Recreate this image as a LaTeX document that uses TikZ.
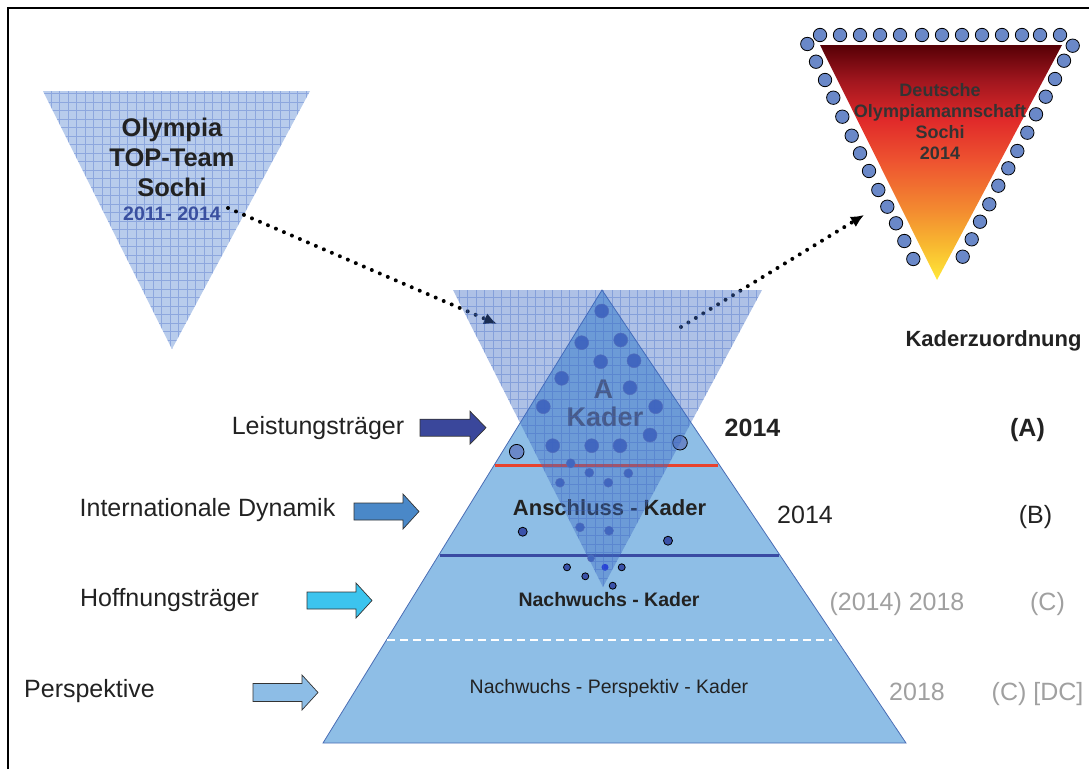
\documentclass[tikz,border=0pt]{standalone}
\usepackage{fontspec}
\setmainfont{Liberation Sans}
\usetikzlibrary{arrows.meta}
\definecolor{pyr}{HTML}{8EBEE6}
\definecolor{pyredge}{HTML}{4A6DB5}
\definecolor{hatchfill}{RGB}{77,127,207}
\definecolor{hatchfillc}{RGB}{62,108,196}
\definecolor{hatchline}{RGB}{60,100,195}
\definecolor{redline}{HTML}{E8432E}
\definecolor{blueline}{HTML}{3A4BA3}
\definecolor{ringdot}{HTML}{6A88C8}
\definecolor{incircle}{HTML}{4464BC}
\definecolor{darkdot}{HTML}{3A52AA}
\definecolor{yeargray}{HTML}{A0A0A0}
\definecolor{olyblue}{HTML}{3A50A0}
\definecolor{kadergray}{HTML}{505060}
\definecolor{txt}{HTML}{222222}
\definecolor{arrA}{HTML}{3A479B}
\definecolor{arrB}{HTML}{4A88C8}
\definecolor{arrC}{HTML}{3CC4EE}
\definecolor{arrD}{HTML}{8DBDE6}
\definecolor{fY}{HTML}{FFE838}
\definecolor{fY2}{HTML}{F8B830}
\definecolor{fO}{HTML}{F38A30}
\definecolor{fR1}{HTML}{EE5530}
\definecolor{fR2}{HTML}{E02A2A}
\definecolor{fR3}{HTML}{A0161E}
\definecolor{fD}{HTML}{560006}
\pgfdeclareverticalshading{flagshade}{100bp}{color(0bp)=(fY); color(25bp)=(fY); color(32.5bp)=(fY2); color(40bp)=(fO); color(50bp)=(fR1); color(59bp)=(fR2); color(67.5bp)=(fR3); color(75bp)=(fD); color(100bp)=(fD)}
\newcommand{\barrowshape}[7]{%
  \draw[arrowline, fill=#7] ({#1-#3},{#2-#5}) -- ({#1-#4},{#2-#5}) -- ({#1-#4},{#2-#6}) -- (#1,#2) -- ({#1-#4},{#2+#6}) -- ({#1-#4},{#2+#5}) -- ({#1-#3},{#2+#5}) -- cycle;}
\tikzset{
  arrowline/.style={draw=black!80, line width=0.7pt},
  lbl/.style={font=\fontsize{25}{30}\selectfont, inner sep=0pt, anchor=base, text=txt},
  lblb/.style={lbl, font=\fontsize{25}{30}\selectfont\bfseries},
  lblg/.style={lbl, text=yeargray},
  olytxt/.style={font=\fontsize{25.5}{30}\selectfont\bfseries, inner sep=0pt, anchor=base, text=txt},
  dtxt/.style={font=\fontsize{18}{21}\selectfont\bfseries, inner sep=0pt, anchor=base, text=black!80},
  dotarrow/.style={line width=4pt, dash pattern=on 0pt off 8.7pt, line cap=round, -{Latex[length=13pt,width=12pt]}},
  hatchgrid/.style={hatchline, opacity=0.35, line width=0.7pt, step=8.5pt},
  incirc/.style={fill=incircle, draw=blueline!80, line width=0.5pt},
  outcirc/.style={fill=ringdot, draw=black, line width=0.8pt},
  smallcirc/.style={fill=darkdot, draw=black, line width=0.8pt},
}
\begin{document}
\begin{tikzpicture}[x=1pt,y=-1pt]
\useasboundingbox (0,0) rectangle (1089,769);
% frame
\draw[line width=2pt] (8,769) -- (8,8) -- (1089,8);

% Olympia TOP-Team triangle
\begin{scope}
  \clip (43,91) -- (310,91) -- (172,349) -- cycle;
  \fill[hatchfill, opacity=0.4] (30,80) rectangle (320,360);
  \draw[hatchgrid] (30,80) grid (320,360);
\end{scope}
\node[olytxt] (oly1) at (172,136.7) {Olympia};
\node[olytxt] (oly2) at (172,166) {TOP-Team};
\node[olytxt] (oly3) at (172,196) {Sochi};
\node[olytxt, font=\fontsize{19.5}{23}\selectfont\bfseries, text=olyblue] (oly4) at (172,220.7) {2011- 2014};

% Deutsche Olympiamannschaft triangle
\shade[shading=flagshade] (820,45) -- (1062,45) -- (937,280) -- cycle;
\foreach \cx/\cy in {820/35,840/35,860/35,880/35,900/35,922/35,942/35,962/35,982/35,1002/35,1022/35,1040/35,1060/35,
  807.3/44,816/61.7,825/80,833.3/97.7,842.3/116.7,851.7/135.7,860/153.3,869/171,878.3/190,887.3/206.7,896/223.3,904.3/241,913.3/259,
  1072.7/45.7,1064/60.7,1055/79,1045.7/96.7,1036/114.3,1027.3/132.7,1017.3/151,1008.3/168.3,998.3/185.7,989.3/204.3,980/221.7,971.7/239.3,962.7/256.7}
  \draw[outcirc] (\cx,\cy) circle (6.7pt);
\node[dtxt] (deu1) at (940,96) {Deutsche};
\node[dtxt] (deu2) at (940,117) {Olympiamannschaft};
\node[dtxt] (deu3) at (940,138) {Sochi};
\node[dtxt] (deu4) at (940,159) {2014};

% pyramid
\coordinate (apex) at (602,290);
\coordinate (bl) at (323,743);
\coordinate (br) at (906,743);
\fill[pyr] (apex) -- (bl) -- (br) -- cycle;
\draw[pyredge, line width=0.8pt] (apex) -- (bl) -- (br) -- cycle;
\coordinate (redL) at (495,465);
\coordinate (redR) at (718,465);
\coordinate (bluL) at (440,555);
\coordinate (bluR) at (779,555);
\coordinate (dashL) at (387,640);
\coordinate (dashR) at (832,640);
\draw[redline, line width=3pt] (redL) -- (redR);
\draw[blueline, line width=3pt] (bluL) -- (bluR);
\draw[white, line width=1.5pt, dash pattern=on 8pt off 5pt] (dashL) -- (dashR);

% circles in the pyramid
\foreach \cx/\cy in {601.7/311,581.7/342.7,620.7/340,600.7/361.7,634/360.7,561.7/378.3,630/387.7,543.3/406.7,655.7/406.7,650/435,552.7/445.7,591.7/445.7,620/445.7}
  \draw[incirc] (\cx,\cy) circle (7pt);
\foreach \cx/\cy in {570.7/463.3,589.3/472.7,628.3/473.3,560/482.7,608.3/482.7,580/527.3,609/530.7}
  \draw[incirc] (\cx,\cy) circle (4.5pt);
\draw[incirc] (591,558.3) circle (3.5pt);
\fill[blue!60!incircle] (605,567.3) circle (3.5pt);
\draw[outcirc] (516.7,451.7) circle (7.3pt);
\draw[outcirc] (680,442.7) circle (7.3pt);
\draw[smallcirc] (522.7,531.7) circle (4.5pt);
\draw[smallcirc] (668,540.7) circle (4.5pt);
\foreach \cx/\cy in {567/567.3,621.7/567.3,585.3/576.3,612.7/585.7}
  \draw[smallcirc] (\cx,\cy) circle (3.5pt);

% pyramid texts
\node[olytxt, font=\fontsize{27}{30}\selectfont\bfseries, text=kadergray] (akA) at (603.3,398.3) {A};
\node[olytxt, font=\fontsize{27}{30}\selectfont\bfseries, text=kadergray] (akK) at (605,426.7) {Kader};
\node[olytxt, font=\fontsize{22}{26}\selectfont\bfseries] (ansch) at (609.5,515.7) {Anschluss - Kader};
\node[olytxt, font=\fontsize{19.5}{23}\selectfont\bfseries] (nach) at (609,606.7) {Nachwuchs - Kader};
\node[olytxt, font=\fontsize{19.5}{23}\selectfont] (npk) at (609,693) {Nachwuchs - Perspektiv - Kader};

% dotted arrows
\coordinate (olyStart) at (228,208);
\coordinate (hatchEnd) at (497,324);
\coordinate (hatchStart) at (681,327);
\coordinate (deuEnd) at (864,215);
\draw[dotarrow] (olyStart) -- (hatchEnd);
\draw[dotarrow] (hatchStart) -- (deuEnd);

% hatched inverted triangle over the pyramid
\begin{scope}
  \clip (453,290) -- (762,290) -- (603,587) -- cycle;
  \fill[hatchfillc, opacity=0.42] (440,280) rectangle (780,600);
  \draw[hatchgrid] (440,280) grid (780,600);
\end{scope}

% block arrows and left labels
\barrowshape{486}{427.7}{66}{16}{8.5}{16.5}{arrA}
\barrowshape{419}{511.5}{65}{16}{8.5}{17.5}{arrB}
\barrowshape{372}{600.5}{65}{16}{8.5}{17.5}{arrC}
\barrowshape{318}{692.5}{65}{16}{9}{17.5}{arrD}
\node[lbl] (leist) at (318,434) {Leistungsträger};
\node[lbl] (intdyn) at (207.5,516.7) {Internationale Dynamik};
\node[lbl] (hoff) at (169.5,606) {Hoffnungsträger};
\node[lbl] (persp) at (89.5,697.3) {Perspektive};

% right labels
\node[lblb, font=\fontsize{22}{26}\selectfont\bfseries] (kz) at (993.5,346) {Kaderzuordnung};
\node[lblb] (yA) at (752.5,436.7) {2014};
\node[lblb] (cA) at (1027.5,436.7) {(A)};
\node[lbl] (yB) at (805,523.3) {2014};
\node[lbl] (cB) at (1035.5,523.3) {(B)};
\node[lblg] (yC) at (897,610) {(2014) 2018};
\node[lblg] (cC) at (1047.5,610) {(C)};
\node[lblg] (yD) at (917,700) {2018};
\node[lblg] (cD) at (1037.5,700) {(C) [DC]};
\end{tikzpicture}
\end{document}
